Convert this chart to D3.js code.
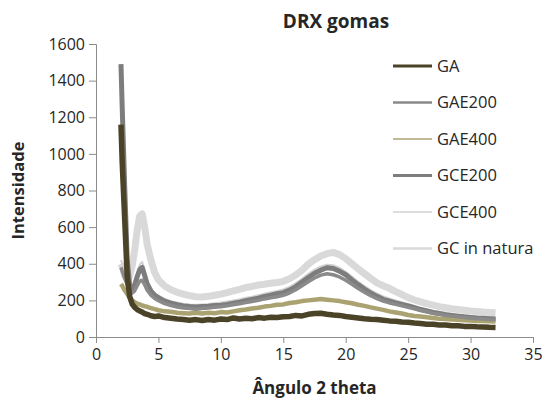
<!DOCTYPE html>
<html>
<head>
<meta charset="utf-8">
<script src="https://cdn.jsdelivr.net/npm/d3@7"></script>
<style>
  body { margin: 0; background: #fff; }
  text { font-family: "Open Sans", sans-serif; fill: #262626; }
</style>
</head>
<body>
<div id="wrapper"></div>
<script>
// angle 2 theta (shared by all series)
const angles = [2.0, 2.1, 2.3, 2.5, 2.7, 2.9, 3.1, 3.3, 3.5, 3.7, 3.9, 4.1, 4.4, 4.7,
  5.0, 5.5, 6.0, 6.5, 7.0, 7.5, 8.0, 8.5, 9.0, 9.5, 10.0, 10.5, 11.0, 11.5, 12.0, 12.5,
  13.0, 13.5, 14.0, 14.5, 15.0, 15.5, 16.0, 16.5, 17.0, 17.5, 18.0, 18.5, 19.0, 19.5,
  20.0, 20.5, 21.0, 21.5, 22.0, 22.5, 23.0, 23.5, 24.0, 24.5, 25.0, 25.5, 26.0, 26.5,
  27.0, 27.5, 28.0, 28.5, 29.0, 29.5, 30.0, 30.5, 31.0, 31.5, 32.0];

const seriesNames = ["GA", "GAE200", "GAE400", "GCE200", "GCE400", "GC in natura"];

const gaValues = [1160, 950, 640, 330, 220, 180, 162, 150, 142, 136, 128, 124, 116, 112,
  115, 106, 102, 98, 96, 92, 95, 90, 96, 92, 98, 95, 104, 98, 102, 100, 106, 103, 108, 106,
  110, 112, 118, 115, 124, 128, 130, 124, 120, 118, 112, 108, 104, 100, 97, 95, 92, 88, 86, 82,
  80, 76, 74, 70, 70, 66, 65, 62, 62, 58, 58, 56, 55, 53, 52];

const gae200Values = [380, 360, 320, 285, 255, 240, 252, 280, 305, 310, 285, 255, 228, 210,
  198, 182, 172, 164, 158, 155, 152, 156, 158, 162, 165, 170, 176, 182, 188, 194, 200, 208,
  214, 220, 228, 240, 258, 280, 302, 322, 338, 345, 340, 328, 310, 288, 265, 245, 226, 210,
  196, 186, 178, 170, 162, 154, 145, 138, 130, 124, 118, 114, 110, 106, 103, 100, 98, 96, 95];

const gae400Values = [290, 280, 255, 235, 215, 200, 190, 182, 178, 172, 168, 165, 158, 152,
  146, 140, 138, 132, 130, 128, 132, 128, 132, 130, 136, 134, 140, 146, 150, 156, 160, 166,
  170, 176, 178, 186, 190, 196, 200, 204, 208, 204, 200, 196, 190, 184, 176, 170, 162, 155,
  148, 140, 134, 128, 120, 115, 112, 108, 104, 100, 98, 96, 94, 92, 90, 88, 88, 86, 85];

const gce200Values = [1490, 1250, 820, 420, 280, 260, 285, 330, 368, 380, 335, 290, 250, 228,
  215, 196, 185, 176, 170, 166, 164, 166, 168, 172, 174, 178, 184, 190, 198, 205, 212, 222,
  228, 236, 242, 256, 275, 300, 325, 348, 365, 378, 374, 360, 340, 312, 286, 262, 240, 222,
  206, 196, 186, 178, 170, 160, 150, 142, 134, 128, 122, 118, 114, 110, 107, 104, 102, 100, 98];

const gce400Values = [420, 400, 350, 300, 270, 262, 290, 345, 395, 410, 365, 310, 268, 240,
  226, 208, 196, 188, 182, 178, 176, 178, 180, 184, 188, 194, 200, 206, 214, 220, 228, 236,
  244, 252, 260, 274, 294, 318, 345, 368, 385, 395, 392, 378, 356, 330, 302, 278, 256, 238,
  222, 210, 200, 190, 180, 170, 160, 152, 144, 138, 132, 126, 122, 118, 115, 112, 110, 108, 106];

const gcNaturaValues = [400, 385, 335, 312, 335, 390, 475, 585, 660, 672, 600, 505, 420, 352,
  312, 278, 258, 244, 234, 226, 220, 218, 222, 228, 234, 242, 252, 260, 270, 276, 284, 288,
  294, 298, 304, 318, 338, 365, 398, 422, 442, 455, 462, 450, 428, 400, 372, 346, 320, 296,
  280, 266, 248, 232, 215, 202, 192, 182, 174, 166, 160, 154, 150, 146, 142, 139, 136, 134, 132];

const xTicks = [0, 5, 10, 15, 20, 25, 30, 35];
const yTicks = [0, 200, 400, 600, 800, 1000, 1200, 1400, 1600];

const seriesValues = [gaValues, gae200Values, gae400Values, gce200Values, gce400Values, gcNaturaValues];
const colors = ["#4b4327", "#8a8a8a", "#aba272", "#7d7d7d", "#d2d2d2", "#d9d9d9"];
const plotWidths = [5.5, 3.5, 4.5, 5, 2, 7];
const legendWidths = [3, 2.5, 1.5, 3, 1.5, 2.5];

const dimensions = {
  width: 546,
  height: 400,
  margin: { top: 44, right: 13, bottom: 63, left: 96 },
};
dimensions.boundedWidth = dimensions.width - dimensions.margin.left - dimensions.margin.right;
dimensions.boundedHeight = dimensions.height - dimensions.margin.top - dimensions.margin.bottom;

const wrapper = d3.select("#wrapper")
  .append("svg")
  .attr("width", dimensions.width)
  .attr("height", dimensions.height);

const bounds = wrapper.append("g")
  .attr("transform", `translate(${dimensions.margin.left},${dimensions.margin.top})`);

const xScale = d3.scaleLinear()
  .domain([0, 35])
  .range([0, dimensions.boundedWidth]);

const yScale = d3.scaleLinear()
  .domain([0, 1600])
  .range([dimensions.boundedHeight, 0]);

// axes
const yAxis = bounds.append("g")
  .call(d3.axisLeft(yScale).tickValues(yTicks).tickFormat(d3.format("d")).tickSize(7).tickPadding(4));
const xAxis = bounds.append("g")
  .attr("transform", `translate(0,${dimensions.boundedHeight})`)
  .call(d3.axisBottom(xScale).tickValues(xTicks).tickFormat(d3.format("d")).tickSize(6).tickPadding(6));

[xAxis, yAxis].forEach(ax => {
  ax.selectAll("path, line").attr("stroke", "#8c8c8c");
  ax.selectAll("text")
    .style("font-family", "'Open Sans', sans-serif")
    .style("font-size", "16px")
    .attr("fill", "#262626");
});

// series (first one on top, like the picture)
const line = d3.line()
  .x((d, i) => xScale(angles[i]))
  .y(d => yScale(d));

d3.range(seriesNames.length).reverse().forEach(i => {
  bounds.append("path")
    .datum(seriesValues[i])
    .attr("d", line)
    .attr("fill", "none")
    .attr("stroke", colors[i])
    .attr("stroke-width", plotWidths[i])
    .attr("stroke-linejoin", "round");
});

// title and axis labels
wrapper.append("text")
  .attr("x", 336)
  .attr("y", 28)
  .attr("text-anchor", "middle")
  .style("font-size", "19px")
  .style("font-weight", "bold")
  .text("DRX gomas");

wrapper.append("text")
  .attr("x", dimensions.margin.left + dimensions.boundedWidth / 2)
  .attr("y", 394)
  .attr("text-anchor", "middle")
  .style("font-size", "17px")
  .style("font-weight", "bold")
  .text("Ângulo 2 theta");

wrapper.append("text")
  .attr("transform", `translate(24,${dimensions.margin.top + dimensions.boundedHeight / 2}) rotate(-90)`)
  .attr("text-anchor", "middle")
  .style("font-size", "16.5px")
  .style("font-weight", "bold")
  .text("Intensidade");

// legend
const legend = wrapper.append("g")
  .attr("transform", "translate(393,66)");

const legendRows = legend.selectAll("g")
  .data(seriesNames)
  .join("g")
  .attr("transform", (d, i) => `translate(0,${i * 36.5})`);

legendRows.append("line")
  .attr("x1", 0)
  .attr("x2", 39)
  .attr("stroke", (d, i) => colors[i])
  .attr("stroke-width", (d, i) => legendWidths[i]);

legendRows.append("text")
  .attr("x", 44)
  .attr("dy", "0.35em")
  .style("font-size", "16.5px")
  .text(d => d);
</script>
</body>
</html>
